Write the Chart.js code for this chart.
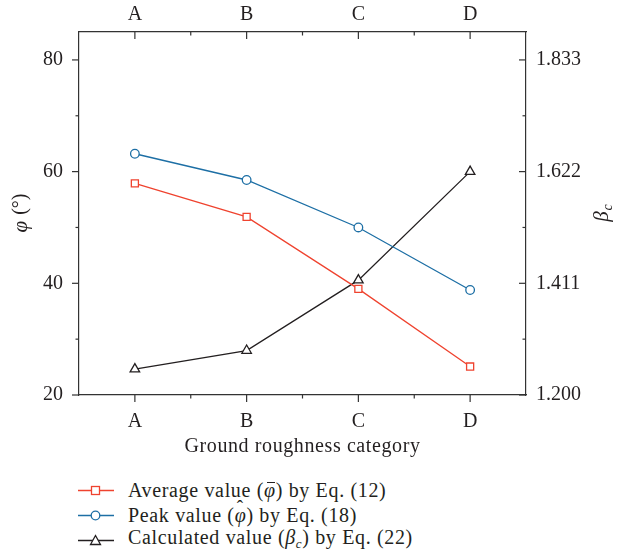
<!DOCTYPE html>
<html lang="en">
<head>
<meta charset="UTF-8">
<title>Ground roughness category</title>
<script src="https://cdn.jsdelivr.net/npm/chart.js@4"></script>
<style>
  * { margin: 0; padding: 0; box-sizing: border-box; }
  body { width: 631px; height: 558px; background: #fff; font-family: "Liberation Serif", serif; color: #231f20; position: relative; overflow: hidden; }
  #wrap { position: absolute; left: 0; top: 0; width: 631px; height: 470px; }
  #legend { position: absolute; left: 78px; top: 478px; font-size: 20px; letter-spacing: 0.65px; line-height: 25px; }
  #legend .row { display: flex; align-items: center; height: 25px; }
  #legend svg { margin-right: 14px; }
  #legend sub { font-size: 13px; vertical-align: -4px; }
  .acc { position: relative; display: inline-block; font-style: italic; }
  .acc .bar { position: absolute; left: 3px; right: 1px; top: 4px; border-top: 1.2px solid #231f20; }
  .acc .hat { position: absolute; left: 2px; top: -9px; font-style: normal; font-size: 19px; }
</style>
</head>
<body>
<div id="wrap"><canvas id="chart"></canvas></div>
<div id="legend"></div>

<script>
  const categories = ['A', 'B', 'C', 'D'];
  const averagePhi = [57.9, 51.9, 39.0, 25.1];
  const peakPhi = [63.2, 58.5, 50.0, 38.8];
  const betaC = [1.249, 1.284, 1.417, 1.622];

  const phiTicks = [20, 40, 60, 80];
  const betaTicks = [1.200, 1.411, 1.622, 1.833];

  const RED = '#ef432f';
  const BLUE = '#1d6fa5';
  const BLACK = '#231f20';
  const AXIS = '#333';
  const FONT = 'Liberation Serif';

  // right axis runs parallel to the left one: 1.200..1.833 spans 20..80
  const phiMin = 20, phiMax = 85;
  const betaPerPhi = (betaTicks[3] - betaTicks[0]) / (phiTicks[3] - phiTicks[0]);
  const betaMin = betaTicks[0];
  const betaMax = betaMin + (phiMax - phiMin) * betaPerPhi;

  const legendItems = [
    { color: RED, shape: 'rect', html: 'Average value (<span class="acc">φ<span class="bar"></span></span>) by Eq. (12)' },
    { color: BLUE, shape: 'circle', html: 'Peak value (<span class="acc">φ<span class="hat">ˆ</span></span>) by Eq. (18)' },
    { color: BLACK, shape: 'triangle', html: 'Calculated value (<i>β</i><sub><i>c</i></sub>) by Eq. (22)' }
  ];

  function markerSvg(shape, color) {
    let m = '';
    if (shape === 'rect') m = `<rect x="13.5" y="6.5" width="8" height="8" fill="#fff" stroke="${color}" stroke-width="1.3"/>`;
    if (shape === 'circle') m = `<circle cx="17.5" cy="10.5" r="4.3" fill="#fff" stroke="${color}" stroke-width="1.3"/>`;
    if (shape === 'triangle') m = `<polygon points="17.5,5.5 22.5,14.5 12.5,14.5" fill="#fff" stroke="${color}" stroke-width="1.3"/>`;
    return `<svg width="36" height="21"><line x1="0" y1="10.5" x2="36" y2="10.5" stroke="${color}" stroke-width="1.3"/>${m}</svg>`;
  }

  document.getElementById('legend').innerHTML = legendItems
    .map(it => `<div class="row">${markerSvg(it.shape, it.color)}<span>${it.html}</span></div>`)
    .join('');

  // tick marks (major + minor) and axis titles
  const frame = {
    id: 'frame',
    afterDraw(chart) {
      const ctx = chart.ctx;
      const { left, right, top, bottom } = chart.chartArea;
      const sx = chart.scales.x, sy = chart.scales.y, sy1 = chart.scales.y1;
      ctx.save();
      ctx.strokeStyle = AXIS;
      ctx.lineWidth = 1.2;
      const seg = (x1, y1, x2, y2) => {
        ctx.beginPath(); ctx.moveTo(x1, y1); ctx.lineTo(x2, y2); ctx.stroke();
      };
      // x: major at categories, minor at the boundaries between them
      categories.forEach((c, i) => {
        const px = sx.getPixelForValue(i);
        seg(px, bottom, px, bottom + 7);
        seg(px, top, px, top + 7);
        if (i > 0) {
          const mx = (sx.getPixelForValue(i - 1) + px) / 2;
          seg(mx, bottom, mx, bottom + 3.5);
          seg(mx, top, mx, top + 3.5);
        }
      });
      // left y
      phiTicks.forEach((v, i) => {
        const py = sy.getPixelForValue(v);
        seg(left - 7, py, left, py);
        if (i < phiTicks.length - 1) {
          const my = sy.getPixelForValue((v + phiTicks[i + 1]) / 2);
          seg(left - 3.5, my, left, my);
        }
      });
      // right y
      betaTicks.forEach((v, i) => {
        const py = sy1.getPixelForValue(v);
        seg(right - 7, py, right, py);
        if (i < betaTicks.length - 1) {
          const my = sy1.getPixelForValue((v + betaTicks[i + 1]) / 2);
          seg(right - 3.5, my, right, my);
        }
      });

      ctx.fillStyle = BLACK;
      ctx.textBaseline = 'middle';
      const midY = (top + bottom) / 2;

      // x title
      ctx.save();
      ctx.textAlign = 'center';
      ctx.font = `20px "${FONT}"`;
      ctx.letterSpacing = '0.6px';
      ctx.fillText('Ground roughness category', (left + right) / 2, 447);
      ctx.restore();

      // left title: φ (°)
      ctx.save();
      ctx.translate(21, midY);
      ctx.rotate(-Math.PI / 2);
      ctx.font = `italic 21px "${FONT}"`;
      const w1 = ctx.measureText('φ').width;
      ctx.font = `20px "${FONT}"`;
      const w2 = ctx.measureText(' (°)').width;
      let x0 = -(w1 + w2) / 2;
      ctx.textAlign = 'left';
      ctx.font = `italic 21px "${FONT}"`;
      ctx.fillText('φ', x0, 0);
      ctx.font = `20px "${FONT}"`;
      ctx.fillText(' (°)', x0 + w1 + 1, 0);
      ctx.restore();

      // right title: βc
      ctx.save();
      ctx.translate(602, midY);
      ctx.rotate(-Math.PI / 2);
      ctx.textAlign = 'left';
      ctx.font = `italic 21px "${FONT}"`;
      const wb = ctx.measureText('β').width;
      ctx.font = `italic 14px "${FONT}"`;
      const wc = ctx.measureText('c').width;
      x0 = -(wb + wc) / 2;
      ctx.font = `italic 21px "${FONT}"`;
      ctx.fillText('β', x0, 0);
      ctx.font = `italic 14px "${FONT}"`;
      ctx.fillText('c', x0 + wb + 1, 6);
      ctx.restore();

      ctx.restore();
    }
  };

  const tickFont = { family: FONT, size: 20 };
  const border = { display: true, color: AXIS, width: 1.2 };
  const noGrid = { drawOnChartArea: false, drawTicks: false };

  const lineStyle = (color, shape, radius) => ({
    borderColor: color,
    backgroundColor: '#fff',
    pointBackgroundColor: '#fff',
    pointBorderColor: color,
    pointBorderWidth: 1.3,
    borderWidth: 1.3,
    pointStyle: shape,
    pointRadius: radius,
    tension: 0
  });

  new Chart(document.getElementById('chart'), {
    type: 'line',
    data: {
      labels: categories,
      datasets: [
        { label: 'Average value', data: averagePhi, yAxisID: 'y', ...lineStyle(RED, 'rect', 5) },
        { label: 'Peak value', data: peakPhi, yAxisID: 'y', ...lineStyle(BLUE, 'circle', 4.3) },
        { label: 'Calculated value', data: betaC, yAxisID: 'y1', ...lineStyle(BLACK, 'triangle', 5.5) }
      ]
    },
    plugins: [frame],
    options: {
      responsive: true,
      maintainAspectRatio: false,
      animation: false,
      layout: { padding: 0 },
      plugins: { legend: { display: false }, tooltip: { enabled: false } },
      scales: {
        x: {
          type: 'category', position: 'bottom', offset: true,
          grid: noGrid, border,
          ticks: { font: tickFont, color: BLACK, padding: 15, maxRotation: 0 },
          afterFit(s) { s.height = 75; }
        },
        x2: {
          type: 'category', position: 'top', offset: true, labels: categories,
          grid: noGrid, border,
          ticks: { font: tickFont, color: BLACK, padding: 5, maxRotation: 0 },
          afterFit(s) { s.height = 32; }
        },
        y: {
          position: 'left', min: phiMin, max: phiMax,
          grid: noGrid, border,
          ticks: { font: tickFont, color: BLACK, padding: 16 },
          afterBuildTicks(s) { s.ticks = phiTicks.map(v => ({ value: v })); },
          afterFit(s) { s.width = 79; }
        },
        y1: {
          position: 'right', min: betaMin, max: betaMax,
          grid: noGrid, border,
          ticks: { font: tickFont, color: BLACK, padding: 10, callback: v => v.toFixed(3) },
          afterBuildTicks(s) { s.ticks = betaTicks.map(v => ({ value: v })); },
          afterFit(s) { s.width = 105; }
        }
      }
    }
  });
</script>
</body>
</html>
